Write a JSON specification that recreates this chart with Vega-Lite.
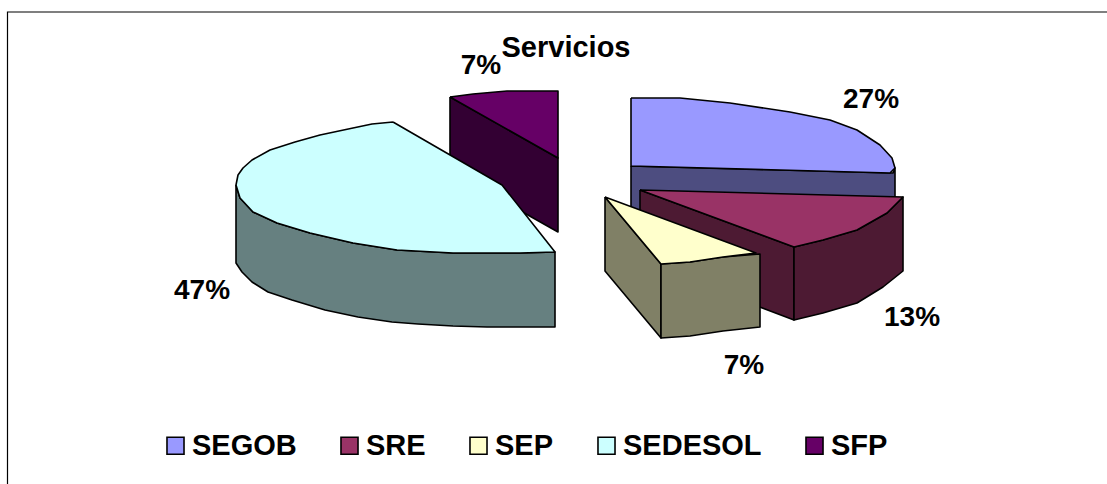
{"$schema":"https://vega.github.io/schema/vega-lite/v6.json","width":1107,"height":484,"padding":0,"autosize":{"type":"none"},"background":"white","view":{"stroke":null},
"config":{"font":"Liberation Sans"},
"title":{"text":"Servicios","font":"Liberation Sans","fontSize":29,"fontWeight":"bold","color":"black","anchor":"middle","dx":12.5,"dy":67},
"datasets":{
"frame":[{"x":0.75,"y":48.4,"i":1},{"x":0.75,"y":1.2,"i":2},{"x":110.7,"y":1.2,"i":3}],
"labels":[{"slice":"SEGOB","share":0.27,"x":87.1,"y":10.8},{"slice":"SRE","share":0.13,"x":91.2,"y":32.6},{"slice":"SEP","share":0.07,"x":74.4,"y":37.4},{"slice":"SEDESOL","share":0.47,"x":20.2,"y":29.9},{"slice":"SFP","share":0.07,"x":48.1,"y":7.4}],
"side":[
{"slice":"SFP","face":"a","i":1,"x":45,"y":9.7},{"slice":"SFP","face":"a","i":2,"x":55.8,"y":15.8},{"slice":"SFP","face":"a","i":3,"x":55.8,"y":23.2},{"slice":"SFP","face":"a","i":4,"x":45,"y":17.1},{"slice":"SFP","face":"a","i":5,"x":45,"y":9.7},
{"slice":"SEDESOL","face":"a","i":1,"x":23.6,"y":18.5},{"slice":"SEDESOL","face":"a","i":2,"x":24,"y":19.8},{"slice":"SEDESOL","face":"a","i":3,"x":25.3,"y":21.2},{"slice":"SEDESOL","face":"a","i":4,"x":27.7,"y":22.3},{"slice":"SEDESOL","face":"a","i":5,"x":31,"y":23.3},{"slice":"SEDESOL","face":"a","i":6,"x":35.3,"y":24.3},{"slice":"SEDESOL","face":"a","i":7,"x":39.7,"y":25},{"slice":"SEDESOL","face":"a","i":8,"x":45.3,"y":25.3},{"slice":"SEDESOL","face":"a","i":9,"x":52,"y":25.3},{"slice":"SEDESOL","face":"a","i":10,"x":55.5,"y":25.2},{"slice":"SEDESOL","face":"a","i":11,"x":55.5,"y":32.7},{"slice":"SEDESOL","face":"a","i":12,"x":52,"y":32.7},{"slice":"SEDESOL","face":"a","i":13,"x":48.7,"y":32.7},{"slice":"SEDESOL","face":"a","i":14,"x":45.3,"y":32.6},{"slice":"SEDESOL","face":"a","i":15,"x":41.8,"y":32.4},{"slice":"SEDESOL","face":"a","i":16,"x":39.2,"y":32.2},{"slice":"SEDESOL","face":"a","i":17,"x":35.8,"y":31.7},{"slice":"SEDESOL","face":"a","i":18,"x":32.5,"y":31},{"slice":"SEDESOL","face":"a","i":19,"x":29.2,"y":30},{"slice":"SEDESOL","face":"a","i":20,"x":26.8,"y":29.2},{"slice":"SEDESOL","face":"a","i":21,"x":25.2,"y":28.2},{"slice":"SEDESOL","face":"a","i":22,"x":24.2,"y":27.2},{"slice":"SEDESOL","face":"a","i":23,"x":23.6,"y":26.3},{"slice":"SEDESOL","face":"a","i":24,"x":23.6,"y":18.5},
{"slice":"SEGOB","face":"a","i":1,"x":63.1,"y":16.6},{"slice":"SEGOB","face":"a","i":2,"x":89.3,"y":17.3},{"slice":"SEGOB","face":"a","i":3,"x":89.5,"y":16.8},{"slice":"SEGOB","face":"a","i":4,"x":89.5,"y":24.5},{"slice":"SEGOB","face":"a","i":5,"x":63.1,"y":24},{"slice":"SEGOB","face":"a","i":6,"x":63.1,"y":16.6},
{"slice":"SRE","face":"a","i":1,"x":64,"y":19},{"slice":"SRE","face":"a","i":2,"x":79.4,"y":24.7},{"slice":"SRE","face":"a","i":3,"x":79.4,"y":32},{"slice":"SRE","face":"a","i":4,"x":64,"y":26.2},{"slice":"SRE","face":"a","i":5,"x":64,"y":19},
{"slice":"SRE","face":"b","i":1,"x":79.4,"y":24.7},{"slice":"SRE","face":"b","i":2,"x":82.3,"y":24},{"slice":"SRE","face":"b","i":3,"x":85.7,"y":23},{"slice":"SRE","face":"b","i":4,"x":88.7,"y":21.3},{"slice":"SRE","face":"b","i":5,"x":90.3,"y":19.7},{"slice":"SRE","face":"b","i":6,"x":90.3,"y":27.1},{"slice":"SRE","face":"b","i":7,"x":88.3,"y":28.7},{"slice":"SRE","face":"b","i":8,"x":85.7,"y":30.3},{"slice":"SRE","face":"b","i":9,"x":82.3,"y":31.3},{"slice":"SRE","face":"b","i":10,"x":79.4,"y":32},{"slice":"SRE","face":"b","i":11,"x":79.4,"y":24.7},
{"slice":"SEP","face":"a","i":1,"x":60.5,"y":19.7},{"slice":"SEP","face":"a","i":2,"x":66.1,"y":26.4},{"slice":"SEP","face":"a","i":3,"x":66.1,"y":33.8},{"slice":"SEP","face":"a","i":4,"x":60.5,"y":27.1},{"slice":"SEP","face":"a","i":5,"x":60.5,"y":19.7},
{"slice":"SEP","face":"b","i":1,"x":66.1,"y":26.4},{"slice":"SEP","face":"b","i":2,"x":69,"y":26.2},{"slice":"SEP","face":"b","i":3,"x":72.3,"y":25.7},{"slice":"SEP","face":"b","i":4,"x":76,"y":25.4},{"slice":"SEP","face":"b","i":5,"x":76,"y":32.7},{"slice":"SEP","face":"b","i":6,"x":72.3,"y":33.1},{"slice":"SEP","face":"b","i":7,"x":69,"y":33.6},{"slice":"SEP","face":"b","i":8,"x":66.1,"y":33.8},{"slice":"SEP","face":"b","i":9,"x":66.1,"y":26.4}
],
"top":[
{"slice":"SEGOB","i":1,"x":63.1,"y":9.8},{"slice":"SEGOB","i":2,"x":68,"y":9.8},{"slice":"SEGOB","i":3,"x":73,"y":10.3},{"slice":"SEGOB","i":4,"x":79,"y":11.2},{"slice":"SEGOB","i":5,"x":83,"y":12},{"slice":"SEGOB","i":6,"x":85.7,"y":13},{"slice":"SEGOB","i":7,"x":88,"y":14.5},{"slice":"SEGOB","i":8,"x":89.2,"y":15.8},{"slice":"SEGOB","i":9,"x":89.5,"y":16.8},{"slice":"SEGOB","i":10,"x":89,"y":17.3},{"slice":"SEGOB","i":11,"x":63.1,"y":16.6},{"slice":"SEGOB","i":12,"x":63.1,"y":9.8},
{"slice":"SRE","i":1,"x":64,"y":19},{"slice":"SRE","i":2,"x":90.3,"y":19.7},{"slice":"SRE","i":3,"x":88.7,"y":21.3},{"slice":"SRE","i":4,"x":85.7,"y":23},{"slice":"SRE","i":5,"x":82.3,"y":24},{"slice":"SRE","i":6,"x":79.4,"y":24.7},{"slice":"SRE","i":7,"x":64,"y":19},
{"slice":"SEP","i":1,"x":60.5,"y":19.7},{"slice":"SEP","i":2,"x":75.6,"y":25.3},{"slice":"SEP","i":3,"x":72.3,"y":25.7},{"slice":"SEP","i":4,"x":69,"y":26.2},{"slice":"SEP","i":5,"x":66.1,"y":26.4},{"slice":"SEP","i":6,"x":60.5,"y":19.7},
{"slice":"SEDESOL","i":1,"x":39.3,"y":12.2},{"slice":"SEDESOL","i":2,"x":37.2,"y":12.4},{"slice":"SEDESOL","i":3,"x":35.3,"y":12.8},{"slice":"SEDESOL","i":4,"x":32,"y":13.5},{"slice":"SEDESOL","i":5,"x":29.5,"y":14.2},{"slice":"SEDESOL","i":6,"x":27,"y":15},{"slice":"SEDESOL","i":7,"x":25.2,"y":16},{"slice":"SEDESOL","i":8,"x":24.3,"y":16.8},{"slice":"SEDESOL","i":9,"x":23.8,"y":17.5},{"slice":"SEDESOL","i":10,"x":23.6,"y":18.5},{"slice":"SEDESOL","i":11,"x":24,"y":19.8},{"slice":"SEDESOL","i":12,"x":25.3,"y":21.2},{"slice":"SEDESOL","i":13,"x":27.7,"y":22.3},{"slice":"SEDESOL","i":14,"x":31,"y":23.3},{"slice":"SEDESOL","i":15,"x":35.3,"y":24.3},{"slice":"SEDESOL","i":16,"x":39.7,"y":25},{"slice":"SEDESOL","i":17,"x":45.3,"y":25.3},{"slice":"SEDESOL","i":18,"x":52,"y":25.3},{"slice":"SEDESOL","i":19,"x":55.5,"y":25.2},{"slice":"SEDESOL","i":20,"x":50.2,"y":18.5},{"slice":"SEDESOL","i":21,"x":39.3,"y":12.2},
{"slice":"SFP","i":1,"x":45,"y":9.7},{"slice":"SFP","i":2,"x":47.3,"y":9.4},{"slice":"SFP","i":3,"x":50.7,"y":9.1},{"slice":"SFP","i":4,"x":55.8,"y":9.1},{"slice":"SFP","i":5,"x":55.8,"y":15.8},{"slice":"SFP","i":6,"x":45,"y":9.7}
]},
"layer":[
{"data":{"name":"frame"},"mark":{"type":"line","stroke":"black","strokeWidth":1.2},"encoding":{"x":{"field":"x","type":"quantitative","scale":{"domain":[0,110.7]},"axis":null},"y":{"field":"y","type":"quantitative","scale":{"domain":[48.4,0]},"axis":null},"order":{"field":"i"}}},
{"data":{"name":"side"},"mark":{"type":"line","stroke":"black","strokeWidth":1.6,"strokeJoin":"round"},"encoding":{"x":{"field":"x","type":"quantitative","scale":{"domain":[0,110.7]},"axis":null},"y":{"field":"y","type":"quantitative","scale":{"domain":[48.4,0]},"axis":null},"order":{"field":"i"},"detail":{"field":"face"},"fill":{"field":"slice","type":"nominal","scale":{"domain":["SEGOB","SRE","SEP","SEDESOL","SFP"],"range":["#4D4D80","#4D1A33","#808066","#668080","#330033"]},"legend":null}}},
{"data":{"name":"top"},"mark":{"type":"line","stroke":"black","strokeWidth":1.6,"strokeJoin":"round"},"encoding":{"x":{"field":"x","type":"quantitative","scale":{"domain":[0,110.7]},"axis":null},"y":{"field":"y","type":"quantitative","scale":{"domain":[48.4,0]},"axis":null},"order":{"field":"i"},"fill":{"field":"slice","type":"nominal","scale":{"domain":["SEGOB","SRE","SEP","SEDESOL","SFP"],"range":["#9999FF","#993366","#FFFFCC","#CCFFFF","#660066"]},"legend":{"title":null,"orient":"none","legendX":161,"legendY":431,"direction":"horizontal","columns":5,"symbolType":"square","symbolSize":290,"symbolStrokeColor":"black","symbolStrokeWidth":1.6,"symbolOpacity":1,"labelFont":"Liberation Sans","labelFontSize":29,"labelFontWeight":"bold","labelColor":"black","labelOffset":2,"columnPadding":38,"labelLimit":300,"padding":0}}}},
{"data":{"name":"labels"},"mark":{"type":"text","font":"Liberation Sans","fontSize":28,"fontWeight":"bold","color":"black","align":"center","baseline":"alphabetic"},"encoding":{"x":{"field":"x","type":"quantitative","scale":{"domain":[0,110.7]},"axis":null},"y":{"field":"y","type":"quantitative","scale":{"domain":[48.4,0]},"axis":null},"text":{"field":"share","type":"quantitative","format":".0%"}}}
],
"resolve":{"scale":{"fill":"independent"}}}
